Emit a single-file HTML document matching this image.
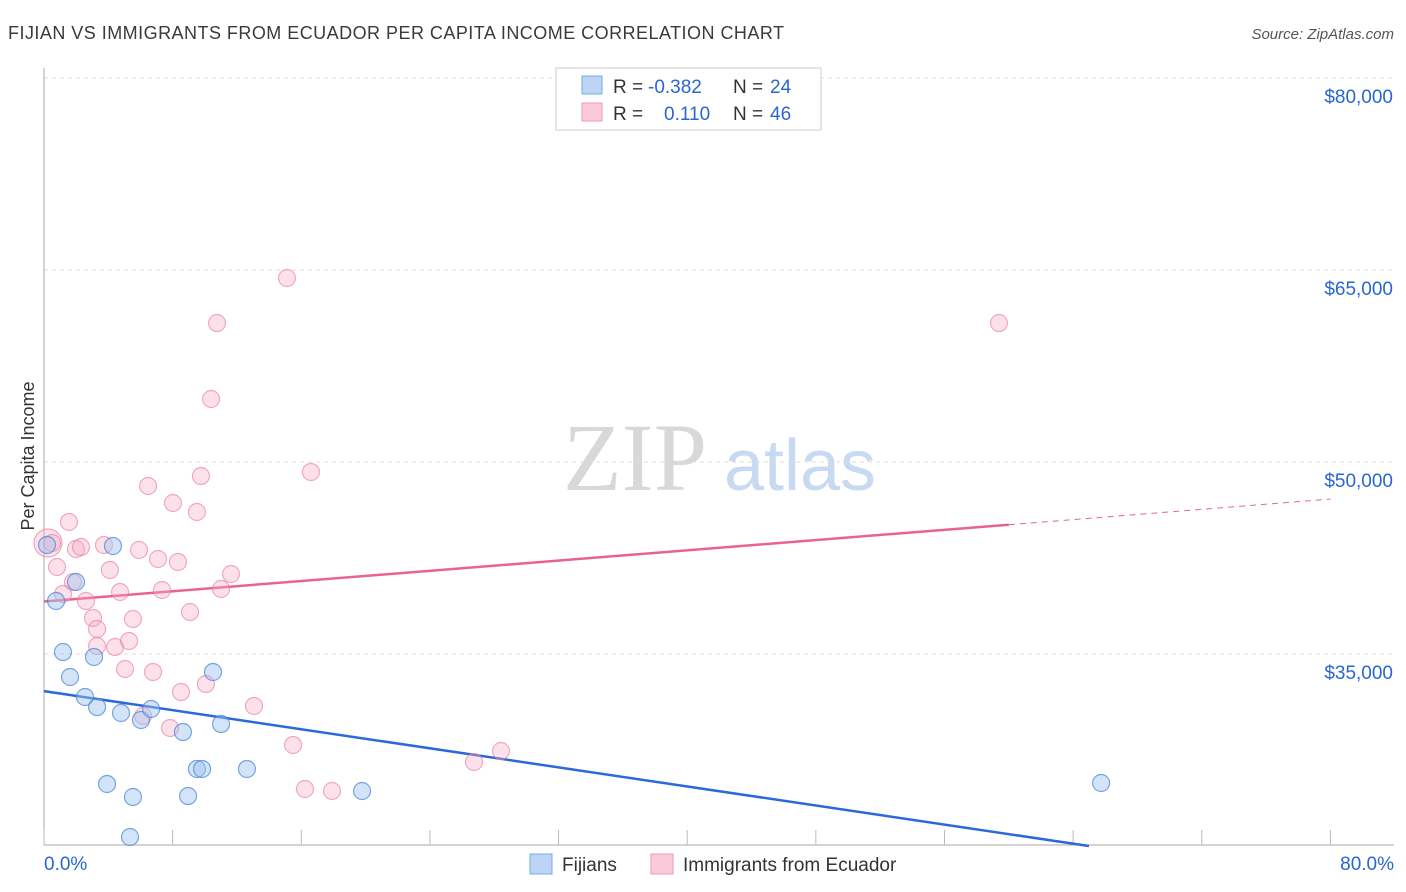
<!DOCTYPE html>
<html><head><meta charset="utf-8"><style>
body{margin:0;background:#fff;font-family:"Liberation Sans",sans-serif;}
svg{display:block}
</style></head><body>
<svg id="chart" width="1406" height="892">
<text x="8" y="39" font-size="18" fill="#3a3a3a" textLength="776">FIJIAN VS IMMIGRANTS FROM ECUADOR PER CAPITA INCOME CORRELATION CHART</text>
<text x="1394" y="39" font-size="15" font-style="italic" fill="#555" text-anchor="end">Source: ZipAtlas.com</text>
<text x="34" y="456" font-size="18" fill="#333" text-anchor="middle" transform="rotate(-90 34 456)">Per Capita Income</text>
<g>
<text x="635" y="490" font-size="96" font-family="Liberation Serif,serif" fill="#d8d8d8" text-anchor="middle">ZIP</text>
<text x="800" y="490" font-size="72" fill="#c8daf2" text-anchor="middle">atlas</text>
</g>
<g id="grid"></g><g id="axes"></g><g id="lines"></g><g id="pts"></g>
<g>
<rect x="556" y="68" width="265" height="62" fill="#fff" stroke="#ccc"/>
<rect x="582" y="76" width="20" height="18" fill="#bdd5f5" stroke="#7aa8e6"/>
<rect x="582" y="103" width="20" height="18" fill="#fbc9d8" stroke="#ef9ab4"/>
<text x="613" y="93" font-size="19" fill="#333">R =</text>
<text x="648" y="93" font-size="19" fill="#2a66d0">-0.382</text>
<text x="733" y="93" font-size="19" fill="#333">N =</text>
<text x="770" y="93" font-size="19" fill="#2a66d0">24</text>
<text x="613" y="120" font-size="19" fill="#333">R =</text>
<text x="664" y="120" font-size="19" fill="#2a66d0">0.110</text>
<text x="733" y="120" font-size="19" fill="#333">N =</text>
<text x="770" y="120" font-size="19" fill="#2a66d0">46</text>
</g>
<g>
<rect x="530" y="854" width="22" height="20" fill="#bdd5f5" stroke="#7aa8e6"/>
<text x="562" y="871" font-size="19" fill="#333">Fijians</text>
<rect x="651" y="854" width="22" height="20" fill="#fbc9d8" stroke="#ef9ab4"/>
<text x="683" y="871" font-size="19" fill="#333">Immigrants from Ecuador</text>
</g>
</svg>
<script>
const yTicks=[35000,50000,65000,80000];
const yTickLabels=["$35,000","$50,000","$65,000","$80,000"];
const xTickLabels=["0.0%","80.0%"];
const fijiX=[0.19,0.75,1.18,1.62,1.99,2.55,3.11,3.30,3.92,4.29,4.79,5.53,5.35,6.03,6.66,8.64,8.96,9.51,9.83,10.51,11.01,12.62,19.78,65.74];
const fijiY=[43516,39141,35156,33203,40625,31641,34766,30859,24844,43438,30391,23828,20703,29844,30703,28906,23906,26016,26016,33594,29531,26016,24297,24922];
const ecuX=[0.25,0.5,0.81,1.18,1.55,1.80,1.99,2.30,2.61,3.05,3.30,3.30,3.73,4.10,4.42,4.73,5.04,5.29,5.53,5.91,6.16,6.47,6.78,7.09,7.34,7.84,8.02,8.33,8.52,9.08,9.51,9.76,10.07,10.39,10.76,11.01,11.63,13.06,15.11,15.49,16.23,16.60,17.91,26.74,28.42,59.39];
const ecuY=[43672,43672,41797,39688,45313,40625,43203,43359,39141,37813,36953,35625,43516,41563,35547,39844,33828,36016,37734,43125,30156,48125,33594,42422,40000,29219,46797,42188,32031,38281,46094,48906,32656,54922,60859,40078,41250,30938,64375,27891,24453,49219,24297,26563,27422,60859];
const fijiTrend=[32100,-186.2];
const ecuTrend=[39100,100];
const NS="http://www.w3.org/2000/svg";
const X=p=>44+p*16.08, Y=v=>462-(v-50000)*0.0128;
function mk(t,a,parent){const e=document.createElementNS(NS,t);for(const k in a)e.setAttribute(k,a[k]);document.getElementById(parent).appendChild(e);return e;}
yTicks.forEach((v,i)=>{
 const l=mk('line',{x1:44,x2:1394,y1:Y(v),y2:Y(v),stroke:'#ddd','stroke-dasharray':'4,4'},'grid');
 
 
 const t=mk('text',{x:1393,y:Y(v)+25,'font-size':19,fill:'#2a66d0','text-anchor':'end'},'grid');
 t.textContent=yTickLabels[i];
 
 
});
const ax=mk('path',{d:'M44 68 V845 H1394',fill:'none',stroke:'#aaa'},'axes');


for(let p=0;p<=80;p+=8){const t=mk('line',{x1:X(p),x2:X(p),y1:830,y2:845,stroke:'#bbb'},'axes');
 
 }
[[0,'start',44],[80,'end',1394]].forEach((d,i)=>{const t=mk('text',{x:d[2],y:870,'font-size':19,fill:'#2a66d0','text-anchor':d[1]},'axes');t.textContent=xTickLabels[i];
 
 });
const xEndF=(20000-fijiTrend[0])/fijiTrend[1];
const fl=mk('line',{x1:X(0),y1:Y(fijiTrend[0]),x2:X(xEndF),y2:Y(20000),stroke:'#2a6ad8','stroke-width':2.5},'lines');


const el=mk('line',{x1:X(0),y1:Y(ecuTrend[0]),x2:X(60),y2:Y(ecuTrend[0]+60*ecuTrend[1]),stroke:'#e8648e','stroke-width':2.5},'lines');


const ed=mk('line',{x1:X(60),y1:Y(ecuTrend[0]+60*ecuTrend[1]),x2:X(80),y2:Y(ecuTrend[0]+80*ecuTrend[1]),stroke:'#e8648e','stroke-width':1,'stroke-dasharray':'6,5'},'lines');


ecuX.forEach((x,i)=>{const c=mk('circle',{cx:X(x),cy:Y(ecuY[i]),r:i===0?14:8.5,fill:'rgba(247,170,195,0.35)',stroke:'rgba(232,120,155,0.6)','stroke-width':1.2},'pts');
 
 });
fijiX.forEach((x,i)=>{const c=mk('circle',{cx:X(x),cy:Y(fijiY[i]),r:8.5,fill:'rgba(160,195,240,0.45)',stroke:'rgba(70,130,215,0.7)','stroke-width':1.2},'pts');
 
 });
</script>
</body></html>
